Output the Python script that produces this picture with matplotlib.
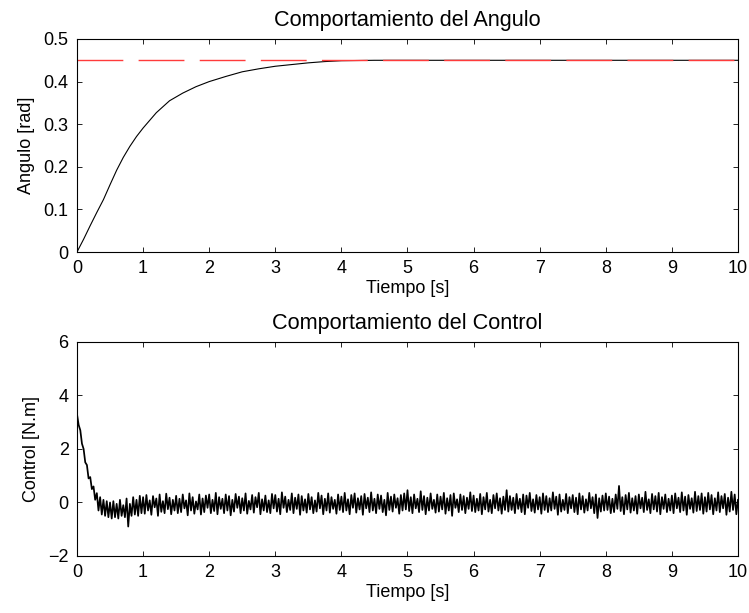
import numpy as np
import matplotlib
matplotlib.use("Agg")
import matplotlib.pyplot as plt

plt.rcParams['font.family'] = ['Liberation Sans', 'DejaVu Sans']
plt.rcParams['font.size'] = 13

# respuesta del angulo
t_ang = [0, 0.1, 0.2, 0.3, 0.4, 0.5, 0.6, 0.7, 0.8, 0.9, 1.0, 1.2, 1.4, 1.6, 1.8,
         2.0, 2.25, 2.5, 2.75, 3.0, 3.25, 3.5, 3.75, 4.0, 4.5, 5.0, 6.0, 7.0, 8.0, 9.0, 10.0]
angulo = [0, 0.03, 0.062, 0.093, 0.123, 0.158, 0.192, 0.222, 0.248, 0.271, 0.291, 0.327,
          0.355, 0.373, 0.388, 0.400, 0.412, 0.423, 0.430, 0.436, 0.440, 0.444, 0.447,
          0.449, 0.450, 0.450, 0.450, 0.450, 0.450, 0.450, 0.450]
referencia = 0.45

# senal de control, muestreo cada 0.025 s
control = [
    3.30, 2.90, 2.70, 2.20, 2.00, 1.50, 1.40, 0.90, 0.95, 0.50,
    0.60, 0.10, 0.35, -0.30, 0.20, -0.45, 0.10, -0.50, 0.05, -0.55,
    0.00, -0.60, 0.05, -0.55, -0.05, -0.60, 0.10, -0.50, -0.10, -0.55,
    0.15, -0.90, -0.05, -0.50, 0.20, -0.45, 0.10, -0.50, 0.25, -0.40,
    0.20, -0.42, 0.28, -0.30, 0.08, -0.46, 0.24, -0.18, 0.15, -0.50, 0.30, -0.35, 0.05, -0.40, 0.33, -0.25, 0.18, -0.44, 0.10, -0.30,
    0.25, -0.40, 0.14, -0.36, 0.30, -0.22, 0.08, -0.48, 0.34, -0.30, 0.20, -0.42, 0.04, -0.26, 0.30, -0.45, 0.15, -0.36, 0.26, -0.20,
    0.30, -0.40, 0.10, -0.32, 0.36, -0.44, 0.20, -0.24, 0.14, -0.40, 0.30, -0.30, 0.24, -0.48, 0.10, -0.34, 0.32, -0.20, 0.22, -0.40,
    0.16, -0.30, 0.34, -0.42, 0.06, -0.26, 0.28, -0.38, 0.20, -0.18, 0.36, -0.44, 0.12, -0.30, 0.26, -0.36, 0.08, -0.40, 0.32, -0.22,
    0.28, -0.34, 0.14, -0.44, 0.38, -0.20, 0.22, -0.36, 0.10, -0.28, 0.34, -0.40, 0.18, -0.24, 0.30, -0.46, 0.24, -0.30, 0.12, -0.38,
    0.32, -0.26, 0.20, -0.40, 0.08, -0.34, 0.36, -0.22, 0.26, -0.44, 0.14, -0.30, 0.34, -0.38, 0.20, -0.24, 0.10, -0.42, 0.30, -0.28,
    0.22, -0.36, 0.36, -0.30, 0.12, -0.44, 0.28, -0.20, 0.34, -0.38, 0.16, -0.26, 0.24, -0.46, 0.32, -0.22, 0.18, -0.36, 0.38, -0.30,
    0.14, -0.40, 0.30, -0.24, 0.26, -0.36, 0.10, -0.48, 0.36, -0.28, 0.22, -0.34, 0.30, -0.20, 0.16, -0.42, 0.28, -0.30, 0.34, -0.26,
    0.46, -0.32, 0.20, -0.40, 0.30, -0.22, 0.14, -0.36, 0.42, -0.28, 0.24, -0.44, 0.18, -0.30, 0.34, -0.24, 0.10, -0.38, 0.30, -0.34,
    0.22, -0.26, 0.36, -0.42, 0.16, -0.30, 0.28, -0.50, 0.34, -0.20, 0.12, -0.36, 0.30, -0.28, 0.24, -0.40, 0.18, -0.24, 0.38, -0.32,
    0.26, -0.36, 0.14, -0.30, 0.32, -0.44, 0.20, -0.26, 0.36, -0.34, 0.10, -0.40, 0.28, -0.22, 0.34, -0.30, 0.16, -0.42, 0.22, -0.28,
    0.46, -0.34, 0.24, -0.28, 0.18, -0.40, 0.32, -0.24, 0.14, -0.36, 0.30, -0.44, 0.26, -0.20, 0.36, -0.32, 0.12, -0.38, 0.28, -0.26,
    0.20, -0.42, 0.34, -0.28, 0.24, -0.36, 0.16, -0.30, 0.38, -0.24, 0.22, -0.46, 0.30, -0.34, 0.10, -0.28, 0.32, -0.40, 0.20, -0.22,
    0.28, -0.36, 0.18, -0.44, 0.34, -0.26, 0.24, -0.38, 0.12, -0.30, 0.36, -0.22, 0.20, -0.40, 0.30, -0.58, 0.16, -0.34, 0.26, -0.30,
    0.34, -0.28, 0.22, -0.40, 0.14, -0.36, 0.30, -0.24, 0.62, -0.32, 0.20, -0.44, 0.28, -0.26, 0.36, -0.38, 0.16, -0.30, 0.24, -0.42,
    0.30, -0.22, 0.18, -0.36, 0.40, -0.28, 0.12, -0.40, 0.32, -0.26, 0.24, -0.34, 0.36, -0.44, 0.20, -0.24, 0.30, -0.36, 0.14, -0.30,
    0.26, -0.40, 0.34, -0.22, 0.18, -0.36, 0.38, -0.30, 0.22, -0.46, 0.28, -0.24, 0.16, -0.38, 0.40, -0.32, 0.24, -0.28, 0.34, -0.42,
    0.20, -0.34, 0.36, -0.26, 0.28, -0.44, 0.16, -0.30, 0.38, -0.36, 0.24, -0.22, 0.32, -0.46, 0.18, -0.34, 0.40, -0.28, 0.30, -0.44,
    0.10,
]
t_ctrl = np.linspace(0, 10, len(control))


def estilo(ax):
    ax.set_xlim(0, 10)
    ax.set_xticks(range(0, 11))
    ax.tick_params(direction='in', length=3.6, width=0.6, top=True, right=True, pad=6)
    for s in ax.spines.values():
        s.set_linewidth(0.8)


fig = plt.figure(figsize=(7.49, 6.13), dpi=100)
ax1 = fig.add_axes([0.1028, 0.5889, 0.8825, 0.3475])
ax2 = fig.add_axes([0.1028, 0.093, 0.8825, 0.3491])

ax1.plot(t_ang, angulo, color='k', lw=0.8)
ax1.axhline(referencia, color='#ff3b3b', lw=1.0, dashes=(33, 11))
estilo(ax1)
ax1.set_ylim(0, 0.5)
ax1.set_yticks([0, 0.1, 0.2, 0.3, 0.4, 0.5])
ax1.set_yticklabels(['0', '0.1', '0.2', '0.3', '0.4', '0.5'])
ax1.set_title('Comportamiento del Angulo', pad=9)
ax1.set_xlabel('Tiempo [s]', labelpad=2)
ax1.set_ylabel('Angulo [rad]', labelpad=6)

ax2.plot(t_ctrl, control, color='k', lw=1.25)
estilo(ax2)
ax2.set_ylim(-2, 6)
ax2.set_yticks([-2, 0, 2, 4, 6])
ax2.set_title('Comportamiento del Control', pad=9)
ax2.set_xlabel('Tiempo [s]', labelpad=2)
ax2.set_ylabel('Control [N.m]', labelpad=6)

fig.savefig('out.png', dpi=100)
